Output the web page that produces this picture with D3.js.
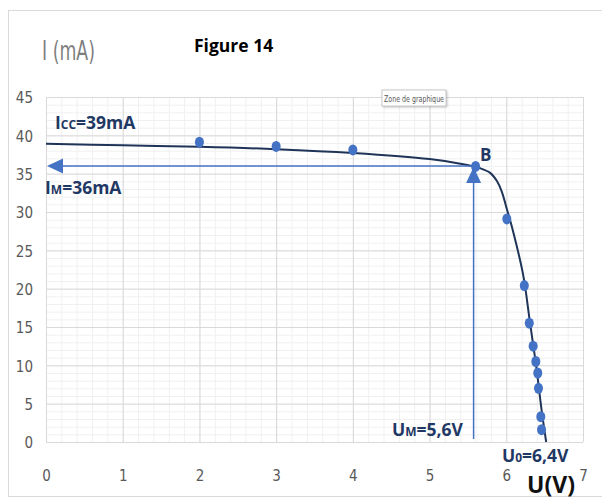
<!DOCTYPE html>
<html>
<head>
<meta charset="utf-8">
<title>Figure 14</title>
<style>
  body { margin: 0; background: #fff; }
  svg { display: block; }
</style>
</head>
<body>
<script src="https://cdn.jsdelivr.net/npm/d3@7"></script>
<script>
// measured points U (V), I (mA)
var uPoints = [2, 3, 4, 5.6, 6.007, 6.235, 6.3, 6.35, 6.385, 6.41, 6.42, 6.45, 6.46];
var iPoints = [39.1, 38.55, 38.1, 35.95, 29.1, 20.4, 15.5, 12.5, 10.5, 9.0, 7.0, 3.3, 1.6];

// trend curve
var fitU = [0, 1, 2, 3, 4, 5, 5.4, 5.66, 5.79, 5.88, 5.94, 6.01, 6.08, 6.22, 6.31, 6.39, 6.46, 6.52];
var fitI = [38.9, 38.7, 38.5, 38.2, 37.7, 36.9, 36.3, 35.7, 35.1, 34.0, 32.7, 30.3, 27.8, 21.8, 15.5, 9.9, 4.2, 0];

var xTicks = [0, 1, 2, 3, 4, 5, 6, 7];
var yTicks = [0, 5, 10, 15, 20, 25, 30, 35, 40, 45];

var uM = 5.6, iM = 36;

var W = 602, H = 500;
var margin = {top: 97, right: 19, bottom: 58, left: 46};
var width = W - margin.left - margin.right,
    height = H - margin.top - margin.bottom;

var x = d3.scaleLinear().domain([0, 7]).range([0, width]);
var y = d3.scaleLinear().domain([0, 45]).range([height, 0]);

var svg = d3.select("body").append("svg")
    .attr("width", W).attr("height", H);

var defs = svg.append("defs");
var flt = defs.append("filter").attr("id", "shadow")
    .attr("x", "-20%").attr("y", "-20%").attr("width", "150%").attr("height", "180%");
flt.append("feDropShadow").attr("dx", 1).attr("dy", 1).attr("stdDeviation", 1)
    .attr("flood-color", "#000").attr("flood-opacity", 0.25);

// chart area frame
svg.append("rect")
    .attr("x", 8.5).attr("y", 10.5)
    .attr("width", 620).attr("height", 486)
    .style("fill", "#fff").style("stroke", "#d9d9d9");

var chart = svg.append("g")
    .attr("transform", "translate(" + margin.left + "," + margin.top + ")");

// minor grid
chart.append("g")
    .call(d3.axisBottom(x).tickValues(d3.range(0, 36).map(function(i){ return i * 0.2; }))
        .tickSize(-height).tickFormat(""))
    .attr("transform", "translate(0," + height + ")")
    .call(function(g){ g.select(".domain").remove(); g.selectAll("line").style("stroke", "#f0f0f0"); });
chart.append("g")
    .call(d3.axisLeft(y).tickValues(d3.range(0, 46)).tickSize(-width).tickFormat(""))
    .call(function(g){ g.select(".domain").remove(); g.selectAll("line").style("stroke", "#f0f0f0"); });

// major grid
chart.append("g")
    .attr("transform", "translate(0," + height + ")")
    .call(d3.axisBottom(x).tickValues(xTicks).tickSize(-height).tickFormat(""))
    .call(function(g){ g.select(".domain").remove(); g.selectAll("line").style("stroke", "#d9d9d9"); });
chart.append("g")
    .call(d3.axisLeft(y).tickValues(yTicks).tickSize(-width).tickFormat(""))
    .call(function(g){ g.select(".domain").remove(); g.selectAll("line").style("stroke", "#d9d9d9"); });

var tickFont = "'Liberation Sans Narrow', 'DejaVu Sans Condensed', sans-serif";

// tick labels
chart.append("g")
    .attr("transform", "translate(0," + (height + 28) + ")")
    .call(d3.axisBottom(x).tickValues(xTicks).tickSize(0).tickPadding(0).tickFormat(d3.format("d")))
    .call(function(g){
        g.select(".domain").remove();
        g.selectAll("text").style("font-family", tickFont).style("font-size", "15px").style("fill", "#595959");
    });
chart.append("g")
    .attr("transform", "translate(-13,1)")
    .call(d3.axisLeft(y).tickValues(yTicks).tickSize(0).tickPadding(0).tickFormat(d3.format("d")))
    .call(function(g){
        g.select(".domain").remove();
        g.selectAll("text").style("font-family", tickFont).style("font-size", "15px").style("fill", "#595959");
    });

// trend curve
var line = d3.line()
    .x(function(d){ return x(d[0]); })
    .y(function(d){ return y(d[1]); })
    .curve(d3.curveCatmullRom.alpha(0.5));
chart.append("path")
    .datum(fitU.map(function(u, i){ return [u, fitI[i]]; }))
    .attr("d", line)
    .style("fill", "none").style("stroke", "#1f3458").style("stroke-width", 2);

// arrows for Um / Im
var blue = "#4472c4";
chart.append("line")
    .attr("x1", x(uM)).attr("y1", y(iM))
    .attr("x2", x(0) + 14).attr("y2", y(iM))
    .style("stroke", blue).style("stroke-width", 1.5);
chart.append("path")
    .attr("d", "M" + (x(0) + 1) + "," + y(iM) + "L" + (x(0) + 17) + "," + (y(iM) - 7.5) + "L" + (x(0) + 17) + "," + (y(iM) + 7.5) + "Z")
    .style("fill", blue);
chart.append("line")
    .attr("x1", x(uM) - 2).attr("y1", y(0) - 3)
    .attr("x2", x(uM) - 2).attr("y2", y(iM) + 14)
    .style("stroke", blue).style("stroke-width", 1.5);
chart.append("path")
    .attr("d", "M" + (x(uM) - 2) + "," + (y(iM) + 1) + "L" + (x(uM) - 9.5) + "," + (y(iM) + 17) + "L" + (x(uM) + 5.5) + "," + (y(iM) + 17) + "Z")
    .style("fill", blue);

// measured points
chart.selectAll(".pt")
    .data(uPoints.map(function(u, i){ return [u, iPoints[i]]; }))
    .enter().append("ellipse")
    .attr("class", "pt")
    .attr("cx", function(d){ return x(d[0]); })
    .attr("cy", function(d){ return y(d[1]); })
    .attr("rx", 4.5).attr("ry", 5.5)
    .style("fill", blue);

// annotations
var navy = "#1f3864";
var boldFont = "'Open Sans', 'Liberation Sans', sans-serif";
function label(px, py, main, sub, rest, size) {
    var t = svg.append("text")
        .attr("x", px).attr("y", py)
        .style("font-family", boldFont).style("font-weight", "bold")
        .style("font-size", size + "px").style("fill", navy);
    t.append("tspan").text(main);
    if (sub) t.append("tspan").style("font-size", Math.round(size * 0.68) + "px").text(sub);
    t.append("tspan").text(rest);
    return t;
}
label(55, 129, "I", "CC", "=39mA", 17.5);
label(45, 194, "I", "M", "=36mA", 17.5);
label(392, 436, "U", "M", "=5,6V", 17.5);
label(502, 462, "U", "0", "=6,4V", 17.5);
svg.append("text").attr("x", 480).attr("y", 161)
    .style("font-family", boldFont).style("font-weight", "bold")
    .style("font-size", "17px").style("fill", navy).text("B");

svg.append("text").attr("x", 527).attr("y", 493)
    .style("font-family", boldFont).style("font-weight", "bold")
    .style("font-size", "23px").style("fill", "#111").text("U(V)");

svg.append("text").attr("x", 42).attr("y", 60)
    .attr("textLength", 53).attr("lengthAdjust", "spacingAndGlyphs")
    .style("font-family", tickFont).style("font-size", "26px").style("fill", "#7f7f7f")
    .text("I (mA)");

svg.append("text").attr("x", 194).attr("y", 52)
    .style("font-family", boldFont).style("font-weight", "bold")
    .style("font-size", "17.5px").style("fill", "#000").text("Figure 14");

// tooltip
var tip = svg.append("g").attr("transform", "translate(382,90)");
tip.append("rect").attr("width", 64).attr("height", 16)
    .style("fill", "#fff").style("stroke", "#a6a6a6").style("stroke-width", 0.6)
    .attr("filter", "url(#shadow)");
tip.append("text").attr("x", 32).attr("y", 11.5).attr("text-anchor", "middle")
    .attr("textLength", 60).attr("lengthAdjust", "spacingAndGlyphs")
    .style("font-family", tickFont).style("font-size", "8.5px").style("fill", "#575757")
    .text("Zone de graphique");
</script>
</body>
</html>
